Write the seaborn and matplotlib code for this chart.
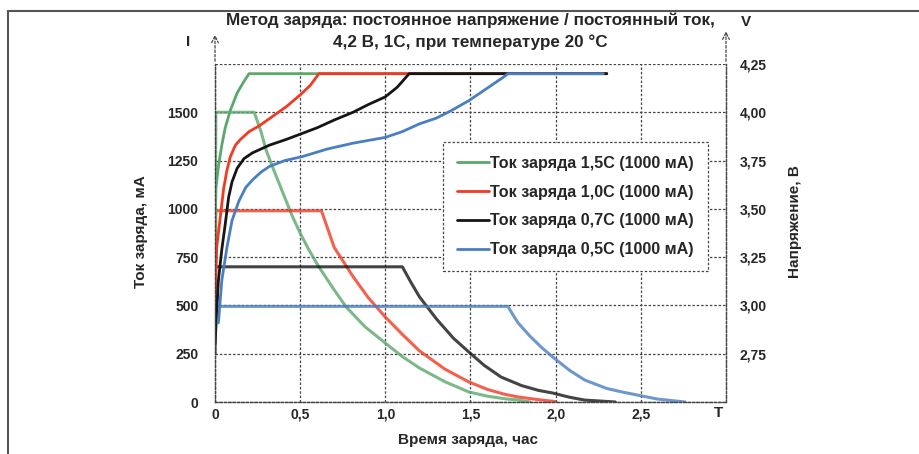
import numpy as np
import pandas as pd
import matplotlib
matplotlib.use("Agg")
import matplotlib.pyplot as plt
from matplotlib.lines import Line2D
import seaborn as sns

sns.set_theme(style="white")
plt.rcParams["font.family"] = ["Liberation Sans", "DejaVu Sans"]
plt.rcParams["font.weight"] = "bold"

# Charge current curves (time in hours, current in mA)
green_i_t = [0, 0.005, 0.23, 0.27, 0.30, 0.35, 0.40, 0.45, 0.50, 0.55, 0.61, 0.70, 0.77,
             0.88, 1.0, 1.1, 1.2, 1.35, 1.49, 1.6, 1.7, 1.78, 1.85]
green_i = [700, 1500, 1500, 1400, 1304, 1190, 1080, 970, 874, 790, 699, 580, 492,
           390, 305, 235, 176, 105, 52, 30, 17, 10, 0]
red_i_t = [0, 0.005, 0.625, 0.70, 0.81, 0.90, 1.0, 1.1, 1.2, 1.35, 1.49, 1.6, 1.7, 1.78, 1.9, 2.0]
red_i = [480, 990, 990, 800, 650, 540, 440, 350, 265, 170, 104, 65, 40, 26, 12, 2]
black_i_t = [0, 0.003, 1.1, 1.15, 1.2, 1.3, 1.4, 1.49, 1.58, 1.68, 1.8, 1.9, 1.98, 2.08, 2.17, 2.35]
black_i = [250, 700, 700, 620, 545, 430, 330, 259, 190, 129, 85, 60, 47, 25, 10, 0]
blue_i_t = [0, 0.01, 1.72, 1.75, 1.78, 1.85, 1.92, 1.99, 2.08, 2.17, 2.3, 2.4, 2.48, 2.6, 2.76]
blue_i = [400, 495, 495, 450, 409, 340, 280, 228, 165, 114, 70, 50, 36, 15, 0]

# Voltage curves (time in hours, voltage in V)
green_v_t = [0, 0.005, 0.02, 0.04, 0.06, 0.09, 0.13, 0.17, 0.2, 2.3]
green_v = [3.2, 3.6, 3.72, 3.83, 3.92, 4.01, 4.1, 4.16, 4.2, 4.2]
red_v_t = [0, 0.01, 0.03, 0.05, 0.07, 0.09, 0.12, 0.15, 0.2, 0.26, 0.34, 0.42, 0.5, 0.56, 0.61, 2.3]
red_v = [3.0, 3.3, 3.45, 3.6, 3.7, 3.77, 3.83, 3.86, 3.9, 3.93, 3.98, 4.03, 4.09, 4.14, 4.2, 4.2]
black_v_t = [0, 0.02, 0.04, 0.06, 0.08, 0.1, 0.13, 0.17, 0.22, 0.32, 0.42, 0.51, 0.6, 0.7,
             0.81, 0.9, 1.0, 1.07, 1.14, 2.3]
black_v = [2.8, 3.13, 3.29, 3.42, 3.56, 3.64, 3.71, 3.76, 3.79, 3.83, 3.86, 3.89, 3.92, 3.96,
           4.0, 4.04, 4.08, 4.13, 4.2, 4.2]
blue_v_t = [0.02, 0.04, 0.07, 0.1, 0.14, 0.18, 0.22, 0.27, 0.32, 0.41, 0.51, 0.66, 0.81, 1.0,
            1.1, 1.2, 1.3, 1.39, 1.49, 1.59, 1.69, 1.72, 2.28]
blue_v = [2.91, 3.13, 3.3, 3.44, 3.54, 3.61, 3.65, 3.69, 3.72, 3.75, 3.77, 3.81, 3.84, 3.87,
          3.9, 3.94, 3.97, 4.01, 4.06, 4.12, 4.18, 4.2, 4.2]

labels = ["Ток заряда 1,5С (1000 мА)", "Ток заряда 1,0С (1000 мА)",
          "Ток заряда 0,7С (1000 мА)", "Ток заряда 0,5С (1000 мА)"]
colors = ["#5aa86a", "#f03a22", "#151515", "#4a7fbf"]

x_ticks = [0, 0.5, 1.0, 1.5, 2.0, 2.5]
x_ticklabels = ["0", "0,5", "1,0", "1,5", "2,0", "2,5"]
i_ticks = [0, 250, 500, 750, 1000, 1250, 1500, 1750]
i_ticklabels = ["0", "250", "500", "750", "1000", "1250", "1500", ""]
v_ticks = [2.5, 2.75, 3.0, 3.25, 3.5, 3.75, 4.0, 4.25]
v_ticklabels = ["", "2,75", "3,00", "3,25", "3,50", "3,75", "4,00", "4,25"]

fig = plt.figure(figsize=(9.2, 4.54), dpi=100)
ax = fig.add_axes([215 / 920, 1 - 402 / 454, 511 / 920, 338 / 454])
ax2 = ax.twinx()

grid_kw = dict(color="#444444", lw=0.9, ls=(0, (2, 1.5)))

currents = [(green_i_t, green_i), (red_i_t, red_i), (black_i_t, black_i), (blue_i_t, blue_i)]
voltages = [(green_v_t, green_v), (red_v_t, red_v), (black_v_t, black_v), (blue_v_t, blue_v)]

for (t, i), (tv, v), c in zip(currents, voltages, colors):
    df_i = pd.DataFrame({"t": t, "val": i})
    df_v = pd.DataFrame({"t": tv, "val": v})
    sns.lineplot(data=df_i, x="t", y="val", ax=ax, color=c, lw=2.2, sort=False,
                 estimator=None, alpha=0.8)
    sns.lineplot(data=df_v, x="t", y="val", ax=ax2, color=c, lw=2.0, sort=False,
                 estimator=None)

ax.set_xlim(0, 3.0)
ax.set_ylim(0, 1750)
ax2.set_ylim(2.5, 4.25)
ax.set_xticks(x_ticks)
ax.set_xticklabels(x_ticklabels)
ax.set_yticks(i_ticks)
ax.set_yticklabels(i_ticklabels)
ax2.set_yticks(v_ticks)
ax2.set_yticklabels(v_ticklabels)
ax.grid(True, **grid_kw)
ax2.grid(False)
ax.set_xlabel("")
ax.set_ylabel("")
ax2.set_ylabel("")

for a in (ax, ax2):
    a.tick_params(length=0, labelsize=10)
    a.spines["top"].set_visible(False)
    for s in ("left", "right", "bottom"):
        a.spines[s].set_linestyle((0, (2, 1.5)))
        a.spines[s].set_color("#444444")
        a.spines[s].set_linewidth(0.9)
ax.tick_params(axis="y", pad=12)
ax.tick_params(axis="x", pad=4)
ax2.tick_params(axis="y", pad=10)

# arrows on the vertical axes
arrow_kw = dict(arrowstyle="->", color="#444444", lw=0.9, ls=(0, (2, 1.5)))
ax.annotate("", xy=(0, 1.095), xytext=(0, 1.0), xycoords="axes fraction",
            arrowprops=arrow_kw, annotation_clip=False)
ax.annotate("", xy=(1, 1.105), xytext=(1, 1.0), xycoords="axes fraction",
            arrowprops=arrow_kw, annotation_clip=False)

fig.text(188 / 920, 1 - 42 / 454, "I", ha="center", va="center", fontsize=11)
fig.text(746 / 920, 1 - 22 / 454, "V", ha="center", va="center", fontsize=11)
fig.text(718 / 920, 1 - 413 / 454, "T", ha="center", va="center", fontsize=11)

fig.text(470 / 920, 1 - 20 / 454, "Метод заряда: постоянное напряжение / постоянный ток,",
         ha="center", va="center", fontsize=12.3)
fig.text(470 / 920, 1 - 42 / 454, "4,2 В, 1С, при температуре 20 °С",
         ha="center", va="center", fontsize=12.3)
fig.text(468 / 920, 1 - 440 / 454, "Время заряда, час", ha="center", va="center", fontsize=11)
fig.text(141 / 920, 1 - 232 / 454, "Ток заряда, мА", ha="center", va="center",
         rotation=90, fontsize=11)
fig.text(795 / 920, 1 - 222 / 454, "Напряжение, В", ha="center", va="center",
         rotation=90, fontsize=11)

handles = [Line2D([], [], color=c, lw=2) for c in colors]
leg = ax.legend(handles, labels, loc="upper left", bbox_to_anchor=(0.446, 0.768),
                fontsize=11.6, handlelength=2.0, handletextpad=0.1, labelspacing=0.85,
                borderpad=0.85, borderaxespad=0, frameon=True, fancybox=False, framealpha=1)
leg.get_frame().set_edgecolor("#444444")
leg.get_frame().set_linestyle((0, (2, 1.5)))
leg.get_frame().set_linewidth(0.9)

# outer frame lines
fig.add_artist(Line2D([8 / 920, 1], [1 - 11 / 454, 1 - 11 / 454], color="#555555", lw=1.5))
fig.add_artist(Line2D([8 / 920, 8 / 920], [0, 1 - 11 / 454], color="#555555", lw=1.5))

fig.savefig("out.png", dpi=100)
